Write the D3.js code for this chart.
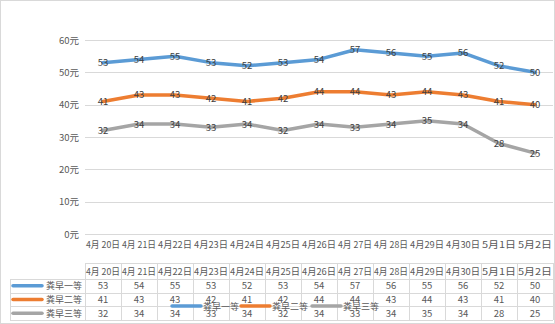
<!DOCTYPE html>
<html><head><meta charset="utf-8">
<script src="https://cdn.jsdelivr.net/npm/d3@7"></script>
<style>body{margin:0;background:#fff}svg{display:block}text{font-family:"Noto Sans CJK SC","DejaVu Sans",sans-serif}</style>
</head><body><svg id="c" width="555" height="324"></svg>
<script>
const categories=["4月 20日","4月 21日","4月22日","4月23日","4月24日","4月25日","4月26日","4月 27日","4月 28日","4月29日","4月30日","5月1日","5月2日"];
const seriesNames=["粪早一等","粪早二等","粪早三等"];
const s1=[53,54,55,53,52,53,54,57,56,55,56,52,50];
const s2=[41,43,43,42,41,42,44,44,43,44,43,41,40];
const s3=[32,34,34,33,34,32,34,33,34,35,34,28,25];
const colors=["#5B9BD5","#ED7D31","#A5A5A5"];
const yTicks=[0,10,20,30,40,50,60];
const series=[s1,s2,s3];

const svg=d3.select("#c");
svg.append("rect").attr("x",0.5).attr("y",0.5).attr("width",554).attr("height",323).attr("fill","#fff").attr("stroke","#d9d9d9");
const x=d3.scaleBand().domain(categories).range([85,553]);
const y=d3.scaleLinear().domain([0,60]).range([234,40]);
const cx=d=>x(d)+x.bandwidth()/2;

// grid
const g=svg.append("g");
g.selectAll("line.grid").data(yTicks).join("line").attr("x1",85).attr("x2",553)
 .attr("y1",d=>Math.round(y(d))+0.5).attr("y2",d=>Math.round(y(d))+0.5).attr("stroke","#d9d9d9");
g.selectAll("text.yl").data(yTicks).join("text").attr("x",79).attr("y",d=>y(d)+3.5)
 .attr("text-anchor","end").attr("font-size",9.5).attr("fill","#595959").text(d=>d+"元");
// x labels
g.selectAll("text.xl").data(categories).join("text").attr("x",cx).attr("y",248)
 .attr("text-anchor","middle").attr("font-size",9).attr("fill","#595959")
 .attr("textLength",34).attr("lengthAdjust","spacingAndGlyphs").text(d=>d);

// lines
const line=d3.line().x((d,i)=>cx(categories[i])).y(d=>y(d));
series.forEach((s,k)=>{
  svg.append("path").datum(s).attr("d",line).attr("fill","none").attr("stroke",colors[k])
   .attr("stroke-width",3.5).attr("stroke-linejoin","round").attr("stroke-linecap","round");
});
series.forEach((s,k)=>{
  svg.append("g").selectAll("text").data(s).join("text").attr("x",(d,i)=>cx(categories[i]))
   .attr("y",d=>y(d)+3.5).attr("text-anchor","middle").attr("font-size",9.5).attr("fill","#404040").text(d=>d);
});

// data table
const tb=svg.append("g");
const hTop=263,rowTop=[279,292.7,306.3],rowH=13.7,tBot=320;
const st="#d9d9d9";
tb.append("line").attr("x1",85).attr("x2",553).attr("y1",hTop+0.5).attr("y2",hTop+0.5).attr("stroke",st);
rowTop.forEach(r=>tb.append("line").attr("x1",10).attr("x2",553).attr("y1",Math.round(r)+0.5).attr("y2",Math.round(r)+0.5).attr("stroke",st));
tb.append("line").attr("x1",10).attr("x2",553).attr("y1",tBot+0.5).attr("y2",tBot+0.5).attr("stroke",st);
tb.append("line").attr("x1",10.5).attr("x2",10.5).attr("y1",279).attr("y2",tBot).attr("stroke",st);
const vx=categories.map(c=>x(c)).concat([553]);
tb.selectAll("line.v").data(vx).join("line").attr("x1",d=>Math.round(d)+0.5).attr("x2",d=>Math.round(d)+0.5)
 .attr("y1",hTop).attr("y2",tBot).attr("stroke",st);
tb.selectAll("text.h").data(categories).join("text").attr("x",cx).attr("y",275)
 .attr("text-anchor","middle").attr("font-size",9).attr("fill","#595959")
 .attr("textLength",34).attr("lengthAdjust","spacingAndGlyphs").text(d=>d);
series.forEach((s,k)=>{
  const ry=rowTop[k]+rowH/2+3.5;
  tb.append("line").attr("x1",13).attr("x2",42).attr("y1",rowTop[k]+rowH/2).attr("y2",rowTop[k]+rowH/2)
   .attr("stroke",colors[k]).attr("stroke-width",3.5).attr("stroke-linecap","round");
  tb.append("text").attr("x",46).attr("y",ry).attr("font-size",9).attr("fill","#595959").text(seriesNames[k]);
  tb.append("g").selectAll("text").data(s).join("text").attr("x",(d,i)=>cx(categories[i])).attr("y",ry)
   .attr("text-anchor","middle").attr("font-size",9.5).attr("fill","#595959").text(d=>d);
});

// floating legend
const lg=svg.append("g");
const lx=[172,241,312];
seriesNames.forEach((n,k)=>{
  lg.append("line").attr("x1",lx[k]).attr("x2",lx[k]+29).attr("y1",306).attr("y2",306)
   .attr("stroke",colors[k]).attr("stroke-width",3.5).attr("stroke-linecap","round");
  lg.append("text").attr("x",lx[k]+31).attr("y",309.5).attr("font-size",9).attr("fill","#595959").text(n);
});
</script></body></html>
